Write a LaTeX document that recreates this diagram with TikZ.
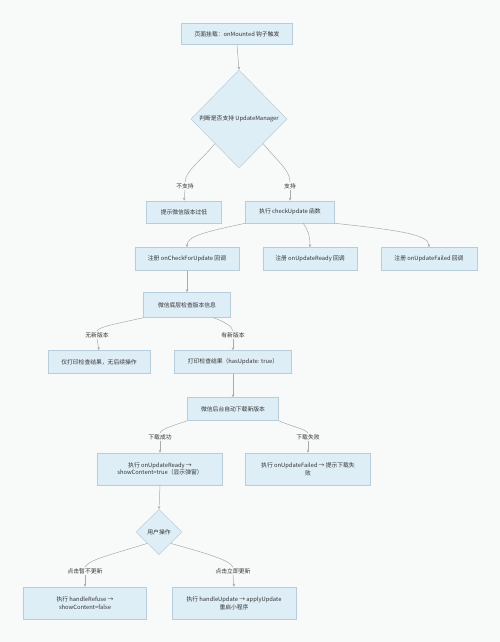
\documentclass[tikz,border=0pt]{standalone}
\usepackage{fontspec}
\setmainfont{Noto Sans CJK SC}
\usetikzlibrary{shapes.geometric,arrows.meta}
\definecolor{bgc}{RGB}{248,249,249}
\definecolor{boxfill}{RGB}{222,238,247}
\definecolor{boxline}{RGB}{184,205,219}
\definecolor{txt}{RGB}{51,51,51}
\definecolor{edgec}{RGB}{170,170,170}
\tikzset{
  procbox/.style={draw=boxline,fill=boxfill,line width=0.5pt,inner sep=1pt,
    font=\fontsize{5.8}{7.6}\selectfont,text=txt,align=center},
  decbox/.style={draw=boxline,fill=boxfill,line width=0.5pt,shape=diamond,inner sep=0pt,
    font=\fontsize{5.8}{7.6}\selectfont,text=txt,align=center},
  lbl/.style={font=\fontsize{5.8}{7}\selectfont,text=txt,inner sep=1pt},
  conn/.style={draw=edgec,line width=0.5pt},
  arr/.style={conn,-{Stealth[length=3pt,width=2.6pt]}},
}
\begin{document}
\begin{tikzpicture}[x=1pt,y=-1pt]
\useasboundingbox[fill=bgc] (0,0) rectangle (500,642);
% nodes
\node[procbox,minimum width=111pt,minimum height=21pt] (n1) at (237,34) {页面挂载：onMounted 钩子触发};
\node[decbox,minimum width=96pt,minimum height=98pt] (d1) at (239,119) {判断是否支持 UpdateManager};
\node[lbl] (l1) at (185,186) {不支持};
\node[lbl] (l2) at (290,186) {支持};
\node[procbox,minimum width=75pt,minimum height=22pt] (n2) at (184,212) {提示微信版本过低};
\node[procbox,minimum width=89pt,minimum height=22pt] (n3) at (290,212) {执行 checkUpdate 函数};
\node[procbox,minimum width=104pt,minimum height=23pt] (n4) at (187,259) {注册 onCheckForUpdate 回调};
\node[procbox,minimum width=94pt,minimum height=23pt] (n5) at (310,259) {注册 onUpdateReady 回调};
\node[procbox,minimum width=96pt,minimum height=23pt] (n6) at (429,259) {注册 onUpdateFailed 回调};
\node[procbox,minimum width=87pt,minimum height=25pt] (n7) at (187,305) {微信底层检查版本信息};
\node[lbl] (l3) at (97,335) {无新版本};
\node[lbl] (l4) at (233,335) {有新版本};
\node[procbox,minimum width=102pt,minimum height=23pt] (n8) at (99,362) {仅打印检查结果，无后续操作};
\node[procbox,minimum width=117pt,minimum height=23pt] (n9) at (233,362) {打印检查结果（hasUpdate: true）};
\node[procbox,minimum width=91pt,minimum height=23pt] (n10) at (233,409) {微信后台自动下载新版本};
\node[lbl] (l5) at (160,437) {下载成功};
\node[lbl] (l6) at (308,437) {下载失败};
\node[procbox,minimum width=125pt,minimum height=32pt] (n11) at (160,469) {执行 onUpdateReady →\\showContent=true（显示弹窗）};
\node[procbox,minimum width=125pt,minimum height=32pt] (n12) at (308,469) {执行 onUpdateFailed → 提示下载失\\败};
\node[decbox,minimum width=46pt,minimum height=45pt] (d2) at (159,532) {用户操作};
\node[lbl] (l7) at (85,571) {点击暂不更新};
\node[lbl] (l8) at (233,571) {点击立即更新};
\node[procbox,minimum width=123pt,minimum height=32pt] (n13) at (85,603) {执行 handleRefuse →\\showContent=false};
\node[procbox,minimum width=124pt,minimum height=32pt] (n14) at (234,603) {执行 handleUpdate → applyUpdate\\重启小程序};
% connectors
\draw[arr] (n1.south) -- (d1.north);
\draw[conn] (d1.south west) .. controls (200,162) and (186,170) .. (l1.north);
\draw[arr] (l1.south) -- (n2.north);
\draw[conn] (d1.south east) .. controls (278,162) and (290,170) .. (l2.north);
\draw[arr] (l2.south) -- (n3.north);
\draw[arr] (n3.south west) .. controls (205,232) and (187,236) .. (n4.north);
\draw[arr] (303,223) .. controls (308,230) and (310,236) .. (n5.north);
\draw[arr] (n3.south east) .. controls (395,230) and (429,234) .. (n6.north);
\draw[arr] (n4.south) -- (n7.north);
\draw[conn] (n7.south west) .. controls (115,324) and (98,327) .. (l3.north);
\draw[arr] (l3.south) -- (n8.north);
\draw[conn] (213,317.5) .. controls (225,322) and (232,326) .. (l4.north);
\draw[arr] (l4.south) -- (n9.north);
\draw[arr] (n9.south) -- (n10.north);
\draw[conn] (n10.south west) .. controls (172,426) and (161,429) .. (l5.north);
\draw[conn] (n10.south east) .. controls (290,426) and (306,429) .. (l6.north);
\draw[arr] (l5.south) -- (n11.north);
\draw[arr] (l6.south) -- (n12.north);
\draw[arr] (n11.south) -- (d2.north);
\draw[conn] (d2.south west) .. controls (110,555) and (88,560) .. (l7.north);
\draw[arr] (l7.south) -- (n13.north);
\draw[conn] (d2.south east) .. controls (205,553) and (230,560) .. (l8.north);
\draw[arr] (l8.south) -- (n14.north);
\end{tikzpicture}
\end{document}
